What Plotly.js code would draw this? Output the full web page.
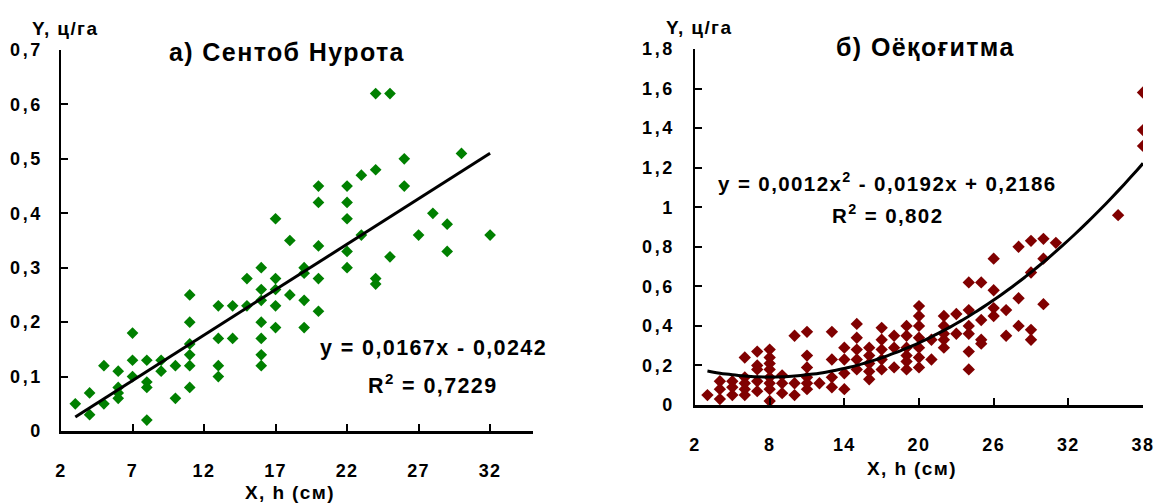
<!DOCTYPE html>
<html>
<head>
<meta charset="utf-8">
<script src="https://cdn.plot.ly/plotly-3.0.1.min.js"></script>
<style>
html,body{margin:0;padding:0;background:#fff;}
#chart{width:1157px;height:503px;}
svg text{letter-spacing:1.4px;}
svg .ytick text, svg .y2tick text{letter-spacing:2.6px;}
</style>
</head>
<body>
<div id="chart"></div>
<script>
// ---- Data: a) Сентоб Нурота ----
const heightsA = [3, 4,4, 5,5, 6,6,6,6, 7,7,7, 8,8,8,8, 9,9, 10,10, 11,11,11,11,11,11,
  13,13,13,13, 14,14, 15,15, 16,16,16,16,16,16,16, 17,17,17,17,17, 18,18, 19,19,19,19,
  20,20,20,20,20, 22,22,22,22,22, 23,23, 24,24,24,24, 25,25, 26,26, 27, 28, 29,29, 30, 32];
const yieldsA = [0.05, 0.07,0.03, 0.12,0.05, 0.11,0.08,0.07,0.06, 0.18,0.13,0.10, 0.13,0.09,0.08,0.02, 0.13,0.11, 0.12,0.06,
  0.25,0.20,0.16,0.14,0.12,0.08, 0.23,0.17,0.12,0.10, 0.23,0.17, 0.28,0.23, 0.30,0.26,0.24,0.20,0.17,0.14,0.12,
  0.39,0.28,0.26,0.23,0.19, 0.35,0.25, 0.30,0.29,0.24,0.19, 0.45,0.42,0.34,0.28,0.22, 0.45,0.42,0.39,0.33,0.30,
  0.47,0.36, 0.62,0.48,0.28,0.27, 0.62,0.32, 0.50,0.45, 0.36, 0.40, 0.38,0.33, 0.51, 0.36];
const coefA = [0.0167, -0.0242];          // y = a*x + b
const ticksA = [2, 7, 12, 17, 22, 27, 32];

// ---- Data: б) Оёқоғитма ----
const heightsB = [3, 4,4,4, 5,5,5, 6,6,6,6,6, 7,7,7,7,7, 8,8,8,8,8,8,8,8, 9,9,9, 10,10,10,
  11,11,11,11,11,11, 12, 13,13,13,13, 14,14,14,14, 15,15,15,15,15, 16,16,16,16,16,
  17,17,17,17,17, 18,18,18, 19,19,19,19,19,19, 20,20,20,20,20,20,20, 21,21,
  22,22,22,22,22, 23,23, 24,24,24,24,24,24, 25,25,25,25, 26,26,26,26, 27,27,
  28,28,28, 29,29,29,29, 30,30,30, 31, 36, 38,38,38];
const yieldsB = [0.05, 0.12,0.08,0.03, 0.12,0.09,0.05, 0.24,0.14,0.11,0.08,0.05, 0.27,0.20,0.18,0.12,0.07,
  0.28,0.24,0.21,0.18,0.14,0.11,0.08,0.02, 0.15,0.11,0.06, 0.35,0.11,0.05,
  0.37,0.25,0.19,0.14,0.11,0.08, 0.11, 0.37,0.23,0.14,0.09, 0.29,0.23,0.16,0.08,
  0.41,0.34,0.28,0.23,0.18, 0.29,0.25,0.21,0.17,0.13, 0.39,0.33,0.28,0.23,0.18, 0.35,0.29,0.19,
  0.40,0.35,0.29,0.25,0.22,0.18, 0.50,0.45,0.40,0.34,0.29,0.24,0.19, 0.33,0.23,
  0.45,0.40,0.36,0.33,0.29, 0.46,0.36, 0.62,0.48,0.40,0.36,0.27,0.18, 0.62,0.43,0.33,0.31,
  0.74,0.58,0.49,0.45, 0.48,0.35, 0.80,0.54,0.40, 0.83,0.67,0.38,0.33, 0.84,0.74,0.51, 0.82, 0.96, 1.58,1.39,1.31];
const coefB = [0.0012, -0.0192, 0.2186]; // y = a*x^2 + b*x + c
const ticksB = [2, 8, 14, 20, 26, 32, 38];

// ---- trendlines from the stated equations ----
const minA = Math.min(...heightsA), maxA = Math.max(...heightsA);
const lineAx = [minA, maxA];
const lineAy = lineAx.map(x => coefA[0]*x + coefA[1]);
const minB = Math.min(...heightsB), maxB = Math.max(...heightsB);
const lineBx = [], lineBy = [];
for (let x = minB; x <= maxB + 1e-9; x += 0.5) {
  lineBx.push(x);
  lineBy.push(coefB[0]*x*x + coefB[1]*x + coefB[2]);
}

const FONT = 'Liberation Sans, Arial, sans-serif';

const traces = [
  {x: heightsA, y: yieldsA, type: 'scatter', mode: 'markers', xaxis: 'x', yaxis: 'y',
   marker: {symbol: 'diamond', size: 9, color: '#008000'}},
  {x: lineAx, y: lineAy, type: 'scatter', mode: 'lines', xaxis: 'x', yaxis: 'y',
   line: {color: '#000', width: 3}},
  {x: heightsB, y: yieldsB, type: 'scatter', mode: 'markers', xaxis: 'x2', yaxis: 'y2',
   marker: {symbol: 'diamond', size: 9.5, color: '#800000'}},
  {x: lineBx, y: lineBy, type: 'scatter', mode: 'lines', xaxis: 'x2', yaxis: 'y2',
   line: {color: '#000', width: 3, shape: 'spline'}}
];

const axisCommon = {
  showline: true, linecolor: '#000', linewidth: 2.5,
  showgrid: false, zeroline: false,
  ticks: 'inside', ticklen: 7, tickwidth: 2, tickcolor: '#000',
  tickfont: {family: FONT, size: 18, color: '#000', weight: 'bold'},
  fixedrange: true
};

function px(v){ return v/1157; }
function py(v){ return 1 - v/503; }

const ann = (text, x, y, size, xanchor) => ({
  text: text, xref: 'paper', yref: 'paper', x: px(x), y: py(y),
  xanchor: xanchor || 'center', yanchor: 'middle', showarrow: false,
  font: {family: FONT, size: size, color: '#000', weight: 'bold'}
});

const layout = {
  width: 1157, height: 503,
  margin: {l: 0, r: 0, t: 0, b: 0},
  paper_bgcolor: '#fff', plot_bgcolor: '#fff',
  showlegend: false,
  separators: ', ',
  xaxis: Object.assign({}, axisCommon, {
    domain: [px(61), px(533)], range: [2, 35], tickvals: ticksA, ticktext: ticksA.map(String),
    anchor: 'y', ticklabelstandoff: 22
  }),
  yaxis: Object.assign({}, axisCommon, {
    domain: [py(431), py(50)], range: [0, 0.7], dtick: 0.1, tick0: 0,
    anchor: 'x', ticklabelstandoff: 12
  }),
  xaxis2: Object.assign({}, axisCommon, {
    domain: [px(695), px(1143)], range: [2, 38], tickvals: ticksB, ticktext: ticksB.map(String),
    anchor: 'y2', ticklabelstandoff: 22
  }),
  yaxis2: Object.assign({}, axisCommon, {
    domain: [py(405), py(49)], range: [0, 1.8], dtick: 0.2, tick0: 0,
    anchor: 'x2', ticklabelstandoff: 14
  }),
  annotations: [
    ann('а) Сентоб Нурота', 287, 52, 25),
    ann('б) Оёқоғитма', 925, 47, 25),
    ann('Y, ц/га', 65, 28, 19),
    ann('Y, ц/га', 699, 27, 19),
    ann('X, h (см)', 290, 492, 19),
    ann('X, h (см)', 912, 468, 19),
    ann('y = 0,0167x - 0,0242', 433, 348, 21.5),
    ann('R<sup>2</sup> = 0,7229', 433, 384, 21.5),
    ann('y = 0,0012x<sup>2</sup> - 0,0192x + 0,2186', 887, 182, 20.5),
    ann('R<sup>2</sup> = 0,802', 887, 214, 20.5)
  ]
};

Plotly.newPlot('chart', traces, layout, {displayModeBar: false, staticPlot: true});
</script>
</body>
</html>
